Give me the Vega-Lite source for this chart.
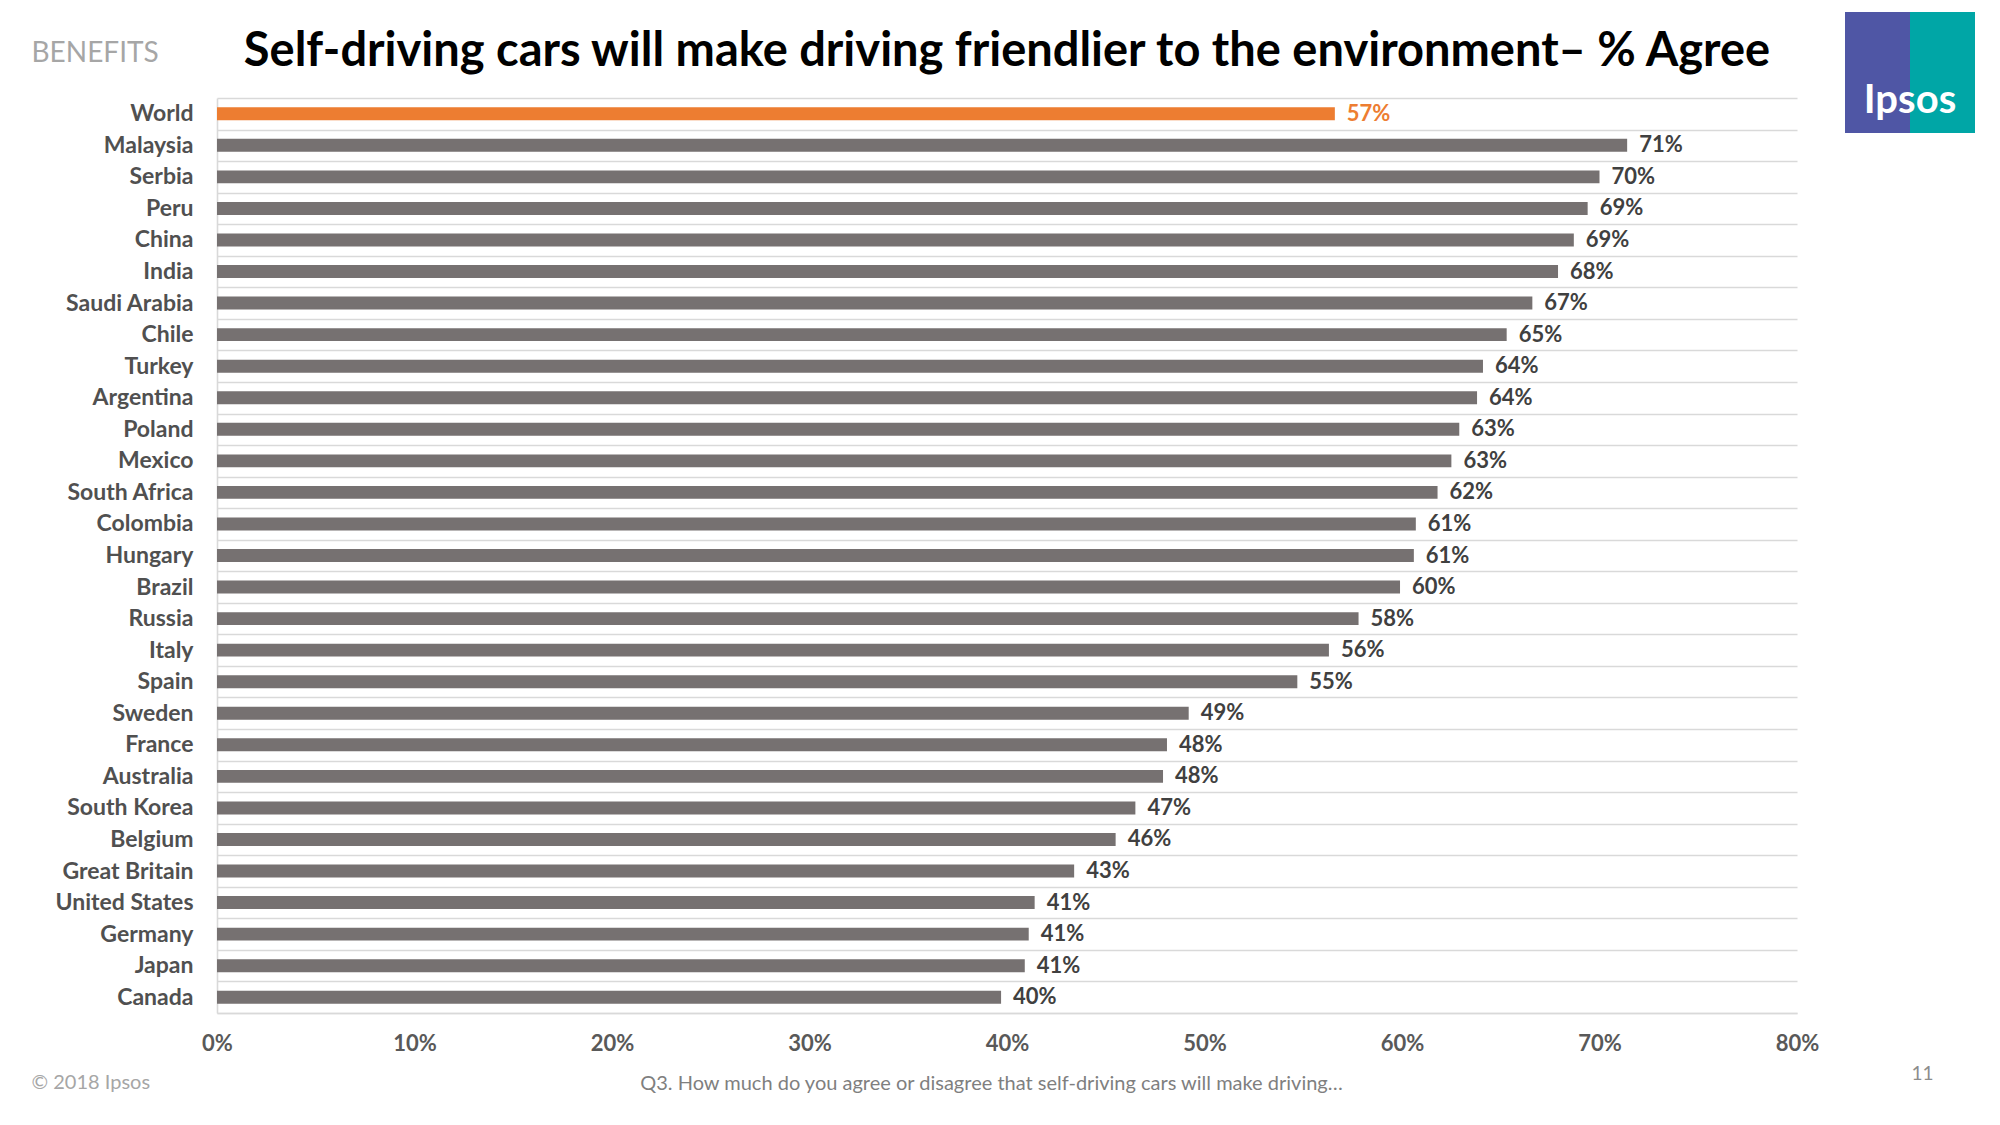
{
  "$schema": "https://vega.github.io/schema/vega-lite/v6.json",
  "autosize": "none",
  "width": 1580,
  "height": 915,
  "padding": {"left": 217, "top": 98, "right": 203, "bottom": 112},
  "background": "#ffffff",
  "config": {"view": {"stroke": null}, "font": "Lato"},
  "title": {
    "text": "Self-driving cars will make driving friendlier to the environment– % Agree",
    "anchor": "middle",
    "frame": "group",
    "font": "Lato",
    "fontSize": 47,
    "fontWeight": "bold",
    "color": "#000000",
    "baseline": "alphabetic",
    "offset": 0,
    "dy": 101
  },
  "layer": [
    {
      "data": {
        "values": [
          {"country": "World", "pct": 56.6, "label": "57%"},
          {"country": "Malaysia", "pct": 71.4, "label": "71%"},
          {"country": "Serbia", "pct": 70.0, "label": "70%"},
          {"country": "Peru", "pct": 69.4, "label": "69%"},
          {"country": "China", "pct": 68.7, "label": "69%"},
          {"country": "India", "pct": 67.9, "label": "68%"},
          {"country": "Saudi Arabia", "pct": 66.6, "label": "67%"},
          {"country": "Chile", "pct": 65.3, "label": "65%"},
          {"country": "Turkey", "pct": 64.1, "label": "64%"},
          {"country": "Argentina", "pct": 63.8, "label": "64%"},
          {"country": "Poland", "pct": 62.9, "label": "63%"},
          {"country": "Mexico", "pct": 62.5, "label": "63%"},
          {"country": "South Africa", "pct": 61.8, "label": "62%"},
          {"country": "Colombia", "pct": 60.7, "label": "61%"},
          {"country": "Hungary", "pct": 60.6, "label": "61%"},
          {"country": "Brazil", "pct": 59.9, "label": "60%"},
          {"country": "Russia", "pct": 57.8, "label": "58%"},
          {"country": "Italy", "pct": 56.3, "label": "56%"},
          {"country": "Spain", "pct": 54.7, "label": "55%"},
          {"country": "Sweden", "pct": 49.2, "label": "49%"},
          {"country": "France", "pct": 48.1, "label": "48%"},
          {"country": "Australia", "pct": 47.9, "label": "48%"},
          {"country": "South Korea", "pct": 46.5, "label": "47%"},
          {"country": "Belgium", "pct": 45.5, "label": "46%"},
          {"country": "Great Britain", "pct": 43.4, "label": "43%"},
          {"country": "United States", "pct": 41.4, "label": "41%"},
          {"country": "Germany", "pct": 41.1, "label": "41%"},
          {"country": "Japan", "pct": 40.9, "label": "41%"},
          {"country": "Canada", "pct": 39.7, "label": "40%"}
        ]
      },
      "encoding": {
        "y": {
          "field": "country",
          "type": "nominal",
          "sort": null,
          "scale": {"paddingInner": 0, "paddingOuter": 0},
          "axis": {
            "title": "BENEFITS",
            "titleAngle": 0,
            "titleX": -186,
            "titleY": -45,
            "titleAlign": "left",
            "titleBaseline": "middle",
            "titleFont": "Lato",
            "titleFontSize": 28,
            "titleFontWeight": "normal",
            "titleColor": "#A6A6A6",
            "labelFont": "Lato",
            "labelFontSize": 23,
            "labelFontWeight": "bold",
            "labelColor": "#505050",
            "labelPadding": 24,
            "ticks": false,
            "tickSize": 0,
            "tickBand": "extent",
            "grid": true,
            "gridColor": "#D9D9D9",
            "gridWidth": 1.6,
            "domain": true,
            "domainColor": "#D9D9D9",
            "domainWidth": 1.6
          }
        },
        "x": {
          "field": "pct",
          "type": "quantitative",
          "scale": {"domain": [0, 80], "nice": false},
          "axis": {
            "values": [0, 10, 20, 30, 40, 50, 60, 70, 80],
            "labelExpr": "datum.value + '%'",
            "labelFont": "Lato",
            "labelFontSize": 22,
            "labelFontWeight": "bold",
            "labelColor": "#595959",
            "labelBaseline": "middle",
            "labelAlign": "center",
            "labelFlush": false,
            "labelPadding": 30,
            "ticks": false,
            "tickSize": 0,
            "grid": false,
            "domain": true,
            "domainColor": "#D9D9D9",
            "domainWidth": 1.6,
            "title": "Q3. How much do you agree or disagree that self-driving cars will make driving…",
            "titleX": 774,
            "titleY": 70,
            "titleAlign": "center",
            "titleBaseline": "middle",
            "titleFont": "Lato",
            "titleFontSize": 20,
            "titleFontWeight": "normal",
            "titleColor": "#7F7F7F"
          }
        }
      },
      "layer": [
        {
          "mark": {"type": "bar", "height": {"band": 0.41}},
          "encoding": {
            "color": {
              "condition": {"test": "datum.country === 'World'", "value": "#ED7D31"},
              "value": "#767171"
            }
          }
        },
        {
          "mark": {"type": "text", "align": "left", "baseline": "middle", "dx": 12, "font": "Lato", "fontSize": 22, "fontWeight": "bold"},
          "encoding": {
            "text": {"field": "label", "type": "nominal"},
            "color": {
              "condition": {"test": "datum.country === 'World'", "value": "#ED7D31"},
              "value": "#404040"
            }
          }
        }
      ]
    },
    {
      "data": {"values": [{"half": "a"}, {"half": "b"}]},
      "encoding": {
        "x": {
          "field": "half",
          "type": "nominal",
          "scale": {"range": [1628, 1758], "paddingInner": 0, "paddingOuter": 0},
          "axis": {
            "orient": "top",
            "title": "© 2018 Ipsos",
            "titleX": -186,
            "titleY": 984,
            "titleAlign": "left",
            "titleBaseline": "middle",
            "titleFont": "Lato",
            "titleFontSize": 20,
            "titleFontWeight": "normal",
            "titleColor": "#A6A6A6",
            "labels": false,
            "ticks": false,
            "domain": false,
            "grid": false
          }
        },
        "y": {
          "datum": "logo",
          "type": "nominal",
          "scale": {"range": [-86, 35], "paddingInner": 0, "paddingOuter": 0},
          "axis": {
            "orient": "right",
            "title": "11",
            "titleAngle": 0,
            "titleX": 125,
            "titleY": 975,
            "titleAlign": "center",
            "titleBaseline": "middle",
            "titleFont": "Lato",
            "titleFontSize": 19,
            "titleFontWeight": "normal",
            "titleColor": "#8C8C8C",
            "labels": false,
            "ticks": false,
            "domain": false,
            "grid": false
          }
        }
      },
      "layer": [
        {
          "mark": {"type": "rect"},
          "encoding": {
            "color": {
              "field": "half",
              "type": "nominal",
              "legend": null,
              "scale": {"domain": ["a", "b"], "range": ["#4F56A5", "#00A6A6"]}
            }
          }
        },
        {
          "transform": [{"filter": "datum.half === 'b'"}],
          "mark": {"type": "text", "align": "center", "baseline": "middle", "dy": 28, "font": "Lato", "fontSize": 40, "fontWeight": "bold", "color": "#ffffff"},
          "encoding": {
            "x": {"field": "half", "type": "nominal", "bandPosition": 0},
            "text": {"value": "Ipsos"}
          }
        }
      ]
    }
  ],
  "resolve": {"scale": {"x": "independent", "y": "independent", "color": "independent"}}
}
